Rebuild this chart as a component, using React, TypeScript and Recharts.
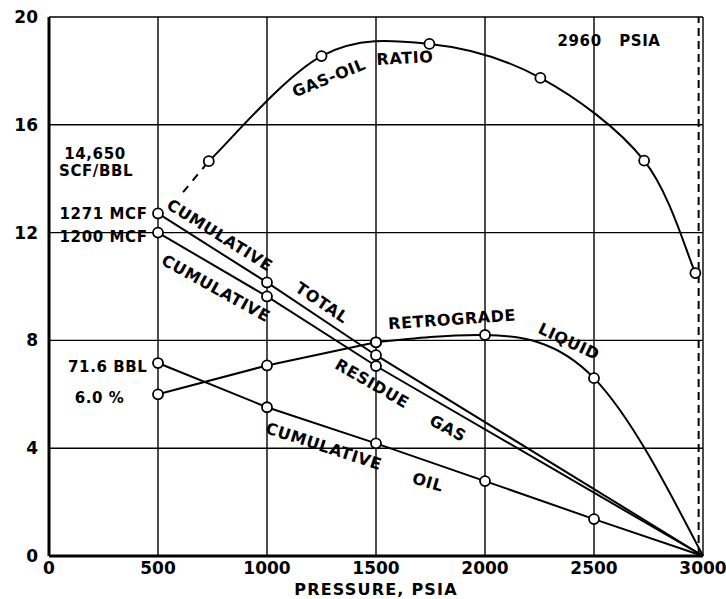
import React from 'react';
import {
  LineChart,
  Line,
  XAxis,
  YAxis,
  CartesianGrid,
  ReferenceLine,
  ReferenceDot,
  Label,
} from 'recharts';

// pressure, psia (x) and plotted value (y) for each curve
const gorPressure = [733, 1250, 1745, 2254, 2730, 2965];
const gorValue = [14.65, 18.55, 19.0, 17.74, 14.67, 10.5];
const gorExtPressure = [615, 733];
const gorExtValue = [13.5, 14.65];

const totalPressure = [500, 1000, 1500, 3000];
const totalValue = [12.71, 10.15, 7.45, 0];

const residuePressure = [500, 1000, 1500, 3000];
const residueValue = [12.0, 9.63, 7.05, 0];

const retroLowPressure = [500, 1000, 1500];
const retroLowValue = [6.0, 7.07, 7.93];
const retroHighPressure = [1500, 2000, 2500, 3000];
const retroHighValue = [7.93, 8.2, 6.6, 0];

const oilPressure = [500, 1000, 1500, 2000, 2500, 3000];
const oilValue = [7.16, 5.52, 4.18, 2.78, 1.37, 0];

const xTicks = [0, 500, 1000, 1500, 2000, 2500, 3000];
const yTicks = [0, 4, 8, 12, 16, 20];
const dewPoint = 2980;

// text notes: [text, pressure, value, angle, anchor, size]
const notes: [string, number, number, number, string, number][] = [
  ['GAS-OIL', 1284, 17.74, -22, 'middle', 16],
  ['RATIO', 1633, 18.48, -3, 'middle', 16],
  ['2960   PSIA', 2569, 19.1, 0, 'middle', 15],
  ['14,650', 211, 14.93, 0, 'middle', 15],
  ['SCF/BBL', 216, 14.3, 0, 'middle', 15],
  ['1271 MCF', 452, 12.7, 0, 'end', 15],
  ['1200 MCF', 452, 11.85, 0, 'end', 15],
  ['71.6 BBL', 452, 7.0, 0, 'end', 15],
  ['6.0 %', 232, 5.85, 0, 'middle', 15],
  ['CUMULATIVE', 784, 11.9, 32, 'middle', 16],
  ['CUMULATIVE', 766, 9.93, 29, 'middle', 16],
  ['TOTAL', 1252, 9.4, 34, 'middle', 16],
  ['RETROGRADE', 1849, 8.78, -4, 'middle', 16],
  ['LIQUID', 2385, 7.96, 25, 'middle', 16],
  ['RESIDUE', 1482, 6.4, 30, 'middle', 16],
  ['GAS', 1830, 4.74, 28, 'middle', 16],
  ['CUMULATIVE', 1261, 4.07, 18, 'middle', 16],
  ['OIL', 1738, 2.74, 16, 'middle', 16],
];

const FONT = '"DejaVu Sans", sans-serif';

const toPoints = (xs: number[], ys: number[]) => xs.map((x, i) => ({ p: x, v: ys[i] }));

// smooth curve through every point (Catmull-Rom), like a French-curve drawing
const catmullRom = (context: any) => {
  let pts: number[][] = [];
  return {
    areaStart() {},
    areaEnd() {},
    lineStart() {
      pts = [];
    },
    lineEnd() {
      if (!pts.length) return;
      context.moveTo(pts[0][0], pts[0][1]);
      for (let i = 0; i < pts.length - 1; i++) {
        const p0 = pts[i - 1] || pts[i];
        const p1 = pts[i];
        const p2 = pts[i + 1];
        const p3 = pts[i + 2] || p2;
        context.bezierCurveTo(
          p1[0] + (p2[0] - p0[0]) / 6,
          p1[1] + (p2[1] - p0[1]) / 6,
          p2[0] - (p3[0] - p1[0]) / 6,
          p2[1] - (p3[1] - p1[1]) / 6,
          p2[0],
          p2[1],
        );
      }
    },
    point(x: number, y: number) {
      pts.push([+x, +y]);
    },
  };
};

const OpenDot = (props: any) => {
  const { cx, cy, payload, index } = props;
  if (payload.p === 3000 && payload.v === 0) return <g key={index} />;
  return <circle key={index} cx={cx} cy={cy} r={5} fill="#fff" stroke="#000" strokeWidth={1.8} />;
};

const noteLabel = (text: string, angle: number, anchor: string, size: number) => (props: any) => {
  const vb = props.viewBox || {};
  const x = vb.x + (vb.width || 0) / 2;
  const y = vb.y + (vb.height || 0) / 2;
  return (
    <text
      x={x}
      y={y}
      textAnchor={anchor as any}
      dominantBaseline="central"
      transform={`rotate(${angle} ${x} ${y})`}
      fontFamily={FONT}
      fontWeight={700}
      fontSize={size}
      letterSpacing={0.6}
      fill="#000"
      style={{ whiteSpace: 'pre' }}
    >
      {text}
    </text>
  );
};

const tickStyle = { fill: '#000', fontSize: 17, fontWeight: 700, fontFamily: FONT };

export default function App() {
  const lineProps = {
    dataKey: 'v',
    stroke: '#000',
    strokeWidth: 2,
    isAnimationActive: false,
    dot: OpenDot,
    activeDot: false as const,
  };

  return (
    <div style={{ position: 'absolute', left: 0, top: 0, background: '#fff' }}>
      <LineChart width={726} height={599} margin={{ top: 17, right: 23, bottom: 13, left: 9 }}>
        <CartesianGrid stroke="#000" strokeWidth={1.4} horizontalValues={yTicks} verticalValues={xTicks} />
        <XAxis
          type="number"
          dataKey="p"
          domain={[0, 3000]}
          ticks={xTicks}
          allowDuplicatedCategory={false}
          height={30}
          tick={tickStyle}
          tickLine={false}
          tickMargin={0}
          axisLine={{ stroke: '#000', strokeWidth: 3 }}
        >
          <Label
            value="PRESSURE,  PSIA"
            position="bottom"
            offset={-2}
            style={{ fill: '#000', fontSize: 16, fontWeight: 700, fontFamily: FONT, letterSpacing: 1.2, whiteSpace: 'pre' }}
          />
        </XAxis>
        <YAxis
          type="number"
          dataKey="v"
          domain={[0, 20]}
          ticks={yTicks}
          width={40}
          tick={tickStyle}
          tickLine={false}
          tickMargin={5}
          axisLine={{ stroke: '#000', strokeWidth: 3 }}
        />
        <ReferenceLine x={dewPoint} stroke="#000" strokeWidth={2} strokeDasharray="8 5" />
        <Line {...lineProps} data={toPoints(gorExtPressure, gorExtValue)} type="linear" strokeDasharray="8 7" dot={false} />
        <Line {...lineProps} data={toPoints(gorPressure, gorValue)} type={catmullRom as any} />
        <Line {...lineProps} data={toPoints(totalPressure, totalValue)} type="linear" />
        <Line {...lineProps} data={toPoints(residuePressure, residueValue)} type="linear" />
        <Line {...lineProps} data={toPoints(retroLowPressure, retroLowValue)} type="linear" />
        <Line {...lineProps} data={toPoints(retroHighPressure, retroHighValue)} type="natural" />
        <Line {...lineProps} data={toPoints(oilPressure, oilValue)} type="linear" />
        {notes.map(([text, x, y, angle, anchor, size], i) => (
          <ReferenceDot
            key={i}
            x={x}
            y={y}
            r={1}
            fill="none"
            stroke="none"
            ifOverflow="visible"
            label={{ content: noteLabel(text, angle, anchor, size) }}
          />
        ))}
      </LineChart>
    </div>
  );
}
